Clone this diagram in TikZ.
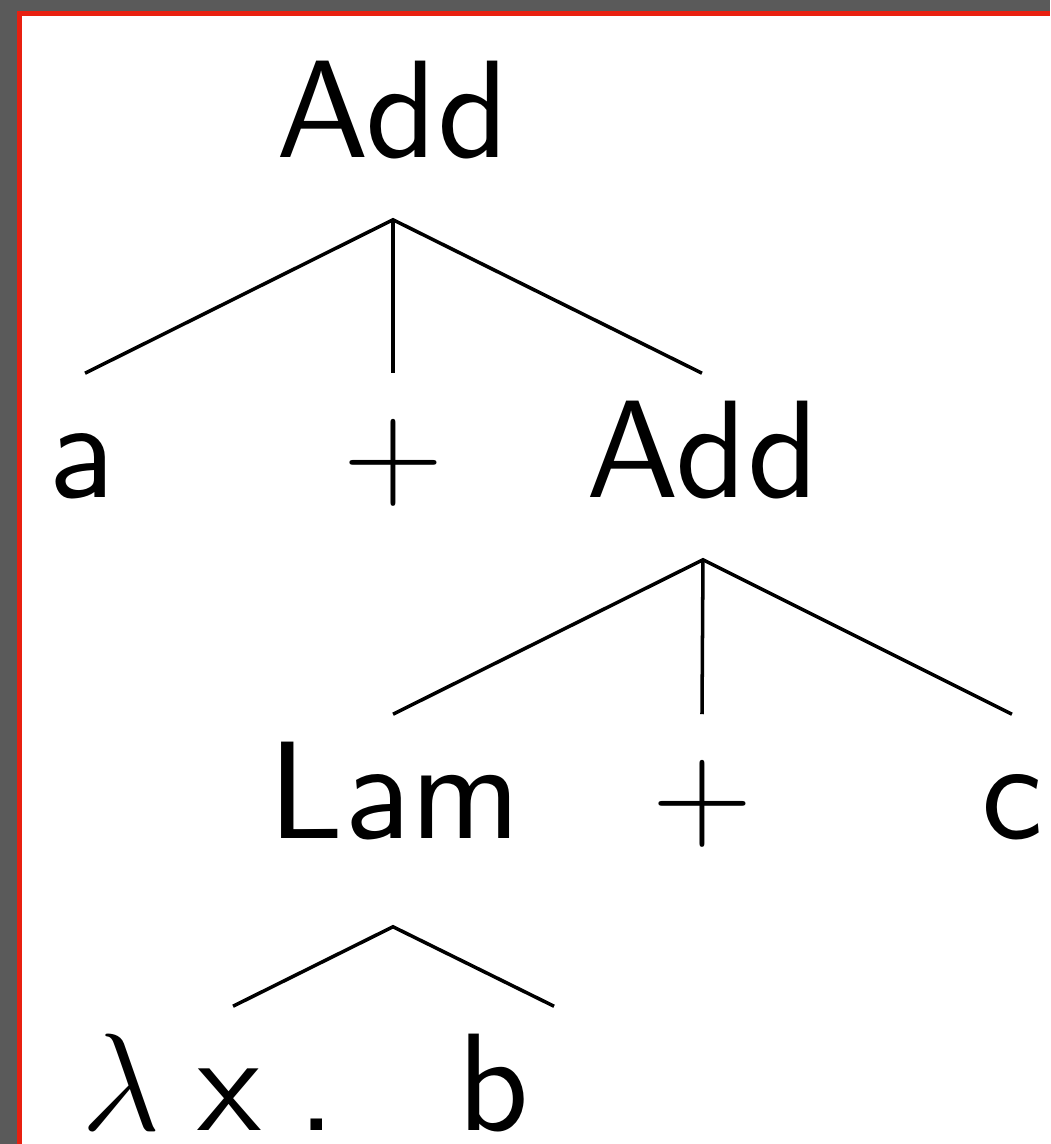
\RequirePackage{fix-cm}
\documentclass[tikz,border=0pt]{standalone}
\usepackage{fontspec}
\newfontfamily\treefont{lmsans10-regular}[Extension=.otf]
\definecolor{slidegray}{RGB}{90,90,90}
\definecolor{framered}{RGB}{232,32,16}
\tikzset{
  leaf/.style={font=\treefont\fontsize{39.5}{47}\selectfont, inner sep=0pt,
    text height=1.23cm, text depth=0.62cm, anchor=base},
  edge/.style={line width=1pt}
}
\begin{document}
\begin{tikzpicture}[x=0.01cm, y=-0.01cm]
            \fill[slidegray] (0,0) rectangle (1050,1144);
            \fill[framered] (17,11) rectangle (1050,1144);
            \fill[white] (22,16) rectangle (1050,1144);
            \useasboundingbox (0,0) rectangle (1050,1144);
            \node[leaf] (add1) at (393,157) {Add};
            \node[leaf] (a) at (82,497) {a};
            \node[leaf] (plus1) at (393,497) {$+$};
            \node[leaf] (add2) at (703,497) {Add};
            \node[leaf] (lam) at (395,838) {Lam};
            \node[leaf] (plus2) at (702,838) {$+$};
            \node[leaf] (c) at (1012,838) {c};
            \node[leaf] (lamx) at (209,1130) {$\lambda$\hspace{0.36cm}x\hspace{0.36cm}.};
            \node[leaf] (b) at (493,1130) {b};
            \draw[edge] ([xshift=0.03cm]a.north) -- (add1.south) -- ([xshift=-0.01cm]add2.north);
            \draw[edge] (add1.south) -- (plus1.north);
            \draw[edge] ([xshift=-0.02cm]lam.north) -- (add2.south) -- (c.north);
            \draw[edge] (add2.south) -- (plus2.north);
            \draw[edge] ([xshift=0.24cm]lamx.north) -- ([yshift=-0.26cm,xshift=-0.02cm]lam.south) -- ([xshift=0.61cm]b.north);
        \end{tikzpicture}
\end{document}
